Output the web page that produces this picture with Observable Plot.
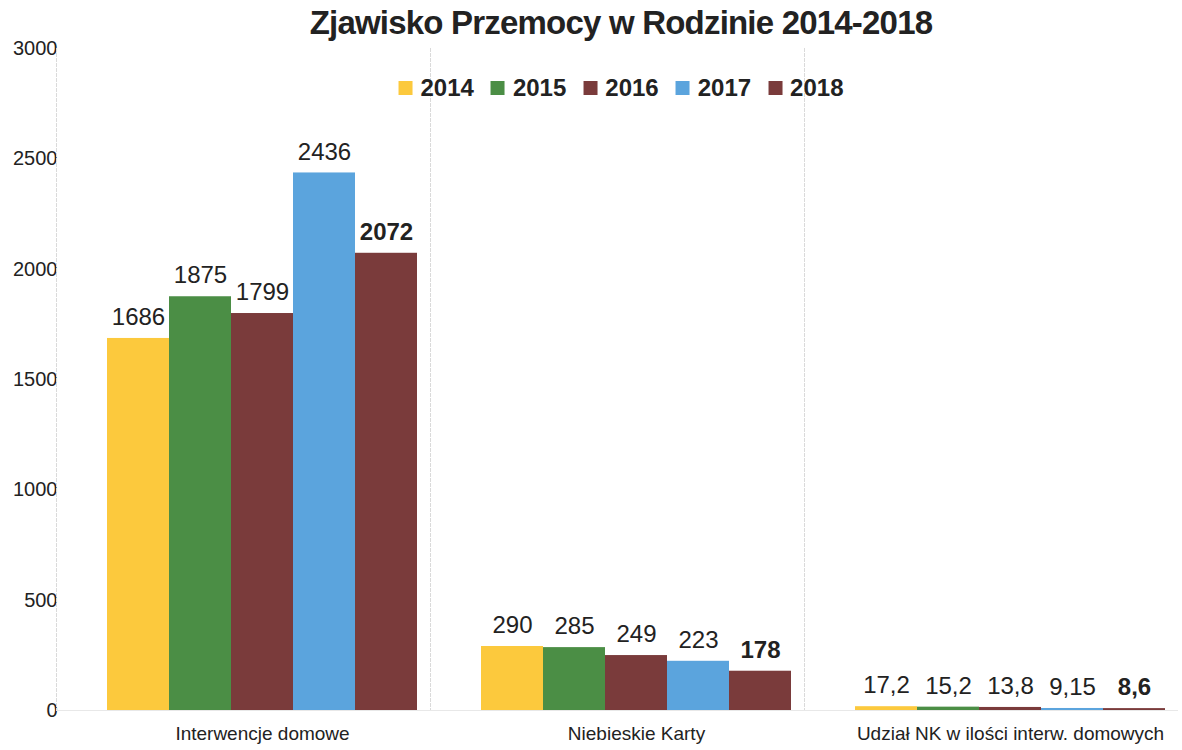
<!DOCTYPE html>
<html>
<head>
<meta charset="utf-8">
<script src="https://cdn.jsdelivr.net/npm/d3@7"></script>
<script src="https://cdn.jsdelivr.net/npm/@observablehq/plot@0.6"></script>
<style>
  html, body { margin: 0; padding: 0; background: #fff; }
  body { width: 1182px; height: 750px; position: relative; overflow: hidden; font-family: "Liberation Sans", Arial, sans-serif; }
  #title { position: absolute; top: 4px; left: 621px; transform: translateX(-50%); font-weight: bold; font-size: 33px; letter-spacing: -0.8px; color: #222; white-space: nowrap; }
  #legend { position: absolute; top: 74px; left: 621px; transform: translateX(-50%); display: flex; gap: 17px; align-items: center; white-space: nowrap; }
  .item { display: flex; align-items: center; gap: 8px; font-weight: bold; font-size: 24px; color: #222; }
  .sw { width: 14px; height: 14px; display: inline-block; }
  #chart { position: absolute; top: 0; left: 0; }
</style>
</head>
<body>
<div id="chart"></div>
<div id="title">Zjawisko Przemocy w Rodzinie 2014-2018</div>
<div id="legend"></div>
<script>
const categories = ["Interwencje domowe", "Niebieskie Karty", "Udział NK w ilości interw. domowych"];
const years = ["2014", "2015", "2016", "2017", "2018"];
const interwencje = [1686, 1875, 1799, 2436, 2072];
const niebieskieKarty = [290, 285, 249, 223, 178];
const udzialNK = [17.2, 15.2, 13.8, 9.15, 8.6];
const yearColors = ["#fcc93d", "#4b8e45", "#7a3b3b", "#5ba4dd", "#7a3b3b"];
const yTicks = [0, 500, 1000, 1500, 2000, 2500, 3000];

const series = [interwencje, niebieskieKarty, udzialNK];
const fmt = v => String(v).replace(".", ",");
const data = categories.flatMap((c, i) => years.map((y, j) => ({
  category: c, year: y, value: series[i][j], label: fmt(series[i][j])
})));

const chart = Plot.plot({
  width: 1182,
  height: 750,
  marginTop: 48,
  marginBottom: 40,
  marginLeft: 56,
  marginRight: 4,
  style: { fontFamily: "Liberation Sans, Arial, sans-serif", fontSize: "20px", color: "#222", background: "transparent" },
  fx: { domain: categories, padding: 0, axis: null },
  x: { domain: years, paddingInner: 0, paddingOuter: 0.5, align: 0.8, axis: null },
  y: { domain: [0, 3000], ticks: yTicks, tickFormat: d => String(d), tickSize: 0, tickPadding: -1, label: null },
  color: { domain: years, range: yearColors },
  marks: [
    Plot.frame({ anchor: "left", stroke: "#dadada", strokeDasharray: "3,2" }),
    Plot.ruleY([0], { stroke: "#e8e8e8" }),
    Plot.barY(data, { fx: "category", x: "year", y: "value", fill: "year" }),
    Plot.text(data.filter(d => d.year !== "2018"), { fx: "category", x: "year", y: "value", text: "label", dy: -21, fontSize: 24, fill: "#222" }),
    Plot.text(data.filter(d => d.year === "2018"), { fx: "category", x: "year", y: "value", text: "label", dy: -21, fontSize: 24, fontWeight: "bold", fill: "#222" }),
    Plot.text(categories, { fx: d => d, x: () => "2016", frameAnchor: "bottom", dy: 29, fontSize: 19, fill: "#222" })
  ]
});
document.getElementById("chart").appendChild(chart);

const legend = document.getElementById("legend");
years.forEach((y, i) => {
  const it = document.createElement("div");
  it.className = "item";
  const sw = document.createElement("span");
  sw.className = "sw";
  sw.style.background = yearColors[i];
  const t = document.createElement("span");
  t.textContent = y;
  it.appendChild(sw); it.appendChild(t);
  legend.appendChild(it);
});
</script>
</body>
</html>
